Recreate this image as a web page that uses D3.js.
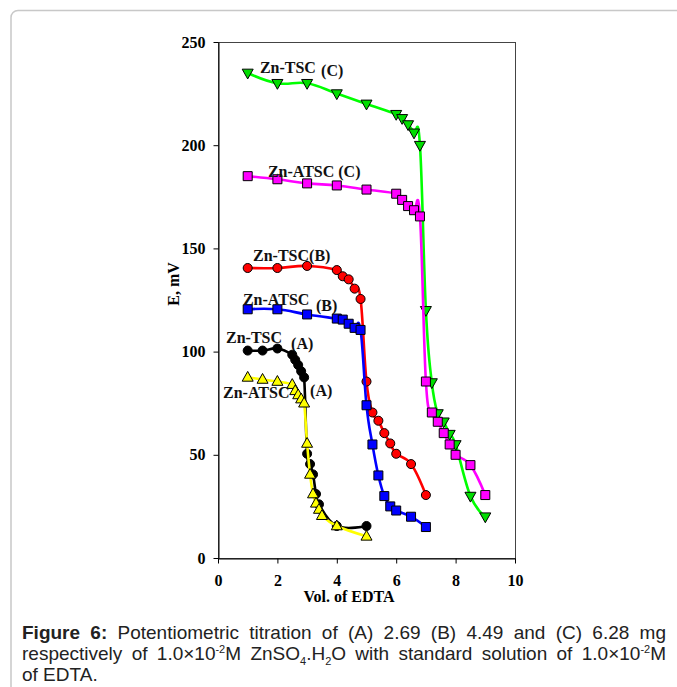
<!DOCTYPE html>
<html>
<head>
<meta charset="utf-8">
<script src="https://cdn.jsdelivr.net/npm/d3@7"></script>
<style>
body { margin: 0; background: #fff; }
</style>
</head>
<body>
<script>
// tick values
var xTicks = [0, 2, 4, 6, 8, 10];
var yTicks = [0, 50, 100, 150, 200, 250];

// (A) 2.69 mg
var volTscA  = [1, 1.5, 2, 2.5, 2.6, 2.7, 2.8, 2.9, 3.0, 3.1, 3.2, 3.3, 3.4, 4.0, 5.0];
var eTscA    = [100.5, 100.5, 101.5, 98.5, 96, 93.5, 90.5, 87.5, 50.5, 45.5, 40.5, 31, 26, 15.5, 15.5];
var volAtscA = [1, 1.5, 2, 2.5, 2.6, 2.7, 2.8, 2.9, 3.0, 3.1, 3.2, 3.3, 3.4, 3.5, 4.0, 5.0];
var eAtscA   = [87.5, 86.5, 85.5, 84, 81, 79, 77, 75, 55.5, 40.5, 31, 26.5, 23.5, 20.5, 15.5, 10.5];

// (B) 4.49 mg
var volTscB  = [1, 2, 3, 4, 4.2, 4.4, 4.6, 4.8, 5.0, 5.2, 5.4, 5.6, 5.8, 6.0, 6.5, 7.0];
var eTscB    = [140.5, 140.5, 141.5, 139.5, 136.5, 135, 130.5, 125.5, 85.5, 70.5, 66.5, 60.5, 55.5, 50.5, 45.5, 30.5];
var volAtscB = [1, 2, 3, 4, 4.2, 4.4, 4.6, 4.8, 5.0, 5.2, 5.4, 5.6, 5.8, 6.0, 6.5, 7.0];
var eAtscB   = [120.5, 120.5, 118, 116, 115.5, 113.5, 111.5, 110.5, 74, 55, 40, 30, 25, 23, 20, 15];

// (C) 6.28 mg
var volTscC  = [1, 2, 3, 4, 5, 6, 6.2, 6.4, 6.6, 6.8, 7.0, 7.2, 7.4, 7.6, 7.8, 8.0, 8.5, 9.0];
var eTscC    = [235, 230, 230, 225, 220, 215, 213, 210, 206, 200, 120, 85, 70, 66, 60, 55, 30, 20];
var volAtscC = [1, 2, 3, 4, 5, 6, 6.2, 6.4, 6.6, 6.8, 7.0, 7.2, 7.4, 7.6, 7.8, 8.0, 8.5, 9.0];
var eAtscC   = [185, 183.5, 181.5, 180.5, 178.5, 176.5, 173.5, 170.5, 168.5, 165.5, 85.5, 70.5, 66, 60.5, 55, 50, 45, 30.5];

var width = 677, height = 687;
var margin = {left: 218, right: 162, top: 42, bottom: 129};

var svg = d3.select('body').append('svg')
    .attr('xmlns', 'http://www.w3.org/2000/svg')
    .attr('width', width)
    .attr('height', height);

// card outline
svg.append('rect')
    .attr('x', 11).attr('y', 10.5)
    .attr('width', 720).attr('height', 720)
    .attr('rx', 7)
    .attr('fill', 'none')
    .attr('stroke', '#c8c8c8')
    .attr('stroke-width', 1.5);

var x = d3.scaleLinear().domain([0, 10]).range([margin.left, width - margin.right]);
var y = d3.scaleLinear().domain([0, 250]).range([height - margin.bottom, margin.top]);

var serif = "'Liberation Serif', 'Times New Roman', serif";

// plot frame
svg.append('rect')
    .attr('x', x(0) + 0.5).attr('y', y(250) + 0.5)
    .attr('width', x(10) - x(0)).attr('height', y(0) - y(250))
    .attr('fill', 'none')
    .attr('stroke', '#444')
    .attr('stroke-width', 1);

var xAxis = svg.append('g')
    .attr('transform', 'translate(0,' + (y(0) + 0.5) + ')')
    .call(d3.axisBottom(x).tickValues(xTicks).tickSizeInner(5).tickSizeOuter(0).tickPadding(11));
var yAxis = svg.append('g')
    .attr('transform', 'translate(' + (x(0) + 0.5) + ',0)')
    .call(d3.axisLeft(y).tickValues(yTicks).tickSizeInner(5).tickSizeOuter(0).tickPadding(8));

[xAxis, yAxis].forEach(function(g) {
    g.selectAll('text')
        .attr('font-family', serif)
        .attr('font-weight', 'bold')
        .attr('font-size', 16)
        .attr('fill', '#000');
    g.selectAll('line, path').attr('stroke', '#000');
});

svg.append('text')
    .attr('x', 349).attr('y', 602)
    .attr('text-anchor', 'middle')
    .attr('font-family', serif).attr('font-weight', 'bold').attr('font-size', 16)
    .text('Vol. of EDTA');

svg.append('text')
    .attr('transform', 'translate(179,284) rotate(-90)')
    .attr('text-anchor', 'middle')
    .attr('font-family', serif).attr('font-weight', 'bold').attr('font-size', 16)
    .text('E, mV');

// series drawing
var series = [
    {xs: volTscA,  ys: eTscA,  line: '#000000', fill: '#000000', mark: 'circle'},
    {xs: volAtscA, ys: eAtscA, line: '#ffff00', fill: '#ffff00', mark: 'triangle'},
    {xs: volTscB,  ys: eTscB,  line: '#ff0000', fill: '#ff0000', mark: 'circle'},
    {xs: volAtscB, ys: eAtscB, line: '#0000ff', fill: '#0000ff', mark: 'square'},
    {xs: volTscC,  ys: eTscC,  line: '#00ff00', fill: '#00dd00', mark: 'triangleDown'},
    {xs: volAtscC, ys: eAtscC, line: '#ff00ff', fill: '#ff00ff', mark: 'square'}
];

var lineGen = d3.line()
    .x(function(d) { return x(d[0]); })
    .y(function(d) { return y(d[1]); })
    .curve(d3.curveCardinal.tension(-0.2));

function markerPath(type) {
    if (type === 'triangle') return 'M0,-6L5.5,3.8L-5.5,3.8Z';
    if (type === 'triangleDown') return 'M0,6L5.5,-3.8L-5.5,-3.8Z';
    if (type === 'square') return 'M-4.5,-4.5H4.5V4.5H-4.5Z';
    return d3.symbol(d3.symbolCircle, 64)();
}

series.forEach(function(s) {
    var pts = s.xs.map(function(v, i) { return [v, s.ys[i]]; });
    var g = svg.append('g');
    g.append('path')
        .attr('d', lineGen(pts))
        .attr('fill', 'none')
        .attr('stroke', s.line)
        .attr('stroke-width', 2.6);
    g.selectAll('path.mk').data(pts).enter()
        .append('path')
        .attr('class', 'mk')
        .attr('d', markerPath(s.mark))
        .attr('transform', function(d) { return 'translate(' + x(d[0]) + ',' + y(d[1]) + ')'; })
        .attr('fill', s.fill)
        .attr('stroke', '#000')
        .attr('stroke-width', 1);
});

// series labels (data coordinates)
var labels = [
    {t: 'Zn-TSC', vx: 1.41, vy: 235},
    {t: '(C)', vx: 3.47, vy: 233.5},
    {t: 'Zn-ATSC (C)', vx: 1.68, vy: 184.8},
    {t: 'Zn-TSC(B)', vx: 1.18, vy: 144.1},
    {t: 'Zn-ATSC', vx: 0.84, vy: 122.6},
    {t: '(B)', vx: 3.30, vy: 119.7},
    {t: 'Zn-TSC', vx: 0.27, vy: 104.2},
    {t: '(A)', vx: 2.46, vy: 101.3},
    {t: 'Zn-ATSC', vx: 0.17, vy: 77.5},
    {t: '(A)', vx: 3.10, vy: 78.5}
];
svg.selectAll('text.lbl').data(labels).enter()
    .append('text')
    .attr('class', 'lbl')
    .attr('x', function(d) { return x(d.vx); })
    .attr('y', function(d) { return y(d.vy); })
    .attr('font-family', serif).attr('font-weight', 'bold').attr('font-size', 16)
    .attr('fill', '#111')
    .text(function(d) { return d.t; });

// caption
var sans = "'Liberation Sans', Arial, sans-serif";
var capLeft = 22, capRight = 666, capSize = 19;

function capLine(yy, parts, justify) {
    var t = svg.append('text')
        .attr('x', capLeft).attr('y', yy)
        .attr('font-family', sans).attr('font-size', capSize)
        .attr('fill', '#222');
    parts.forEach(function(p) {
        var ts = t.append('tspan').text(p.s);
        if (p.b) ts.attr('font-weight', 'bold');
        if (p.sup) ts.attr('font-size', 11).attr('dy', -7);
        if (p.sub) ts.attr('font-size', 11).attr('dy', 5);
        if (p.back) ts.attr('dy', p.back);
    });
    if (justify) {
        var full = parts.map(function(p) { return p.s; }).join('');
        var spaces = (full.match(/ /g) || []).length;
        var w = t.node().getComputedTextLength();
        t.attr('word-spacing', (capRight - capLeft - w) / spaces);
    }
}

capLine(639, [
    {s: 'Figure 6:', b: true},
    {s: ' Potentiometric titration of (A) 2.69 (B) 4.49 and (C) 6.28 mg'}
], true);
capLine(660, [
    {s: 'respectively of 1.0\u00d710'},
    {s: '-2', sup: true},
    {s: 'M ZnSO', back: 7},
    {s: '4', sub: true},
    {s: '.H', back: -5},
    {s: '2', sub: true},
    {s: 'O with standard solution of 1.0\u00d710', back: -5},
    {s: '-2', sup: true},
    {s: 'M', back: 7}
], true);
capLine(681, [{s: 'of EDTA.'}], false);
</script>
</body>
</html>
